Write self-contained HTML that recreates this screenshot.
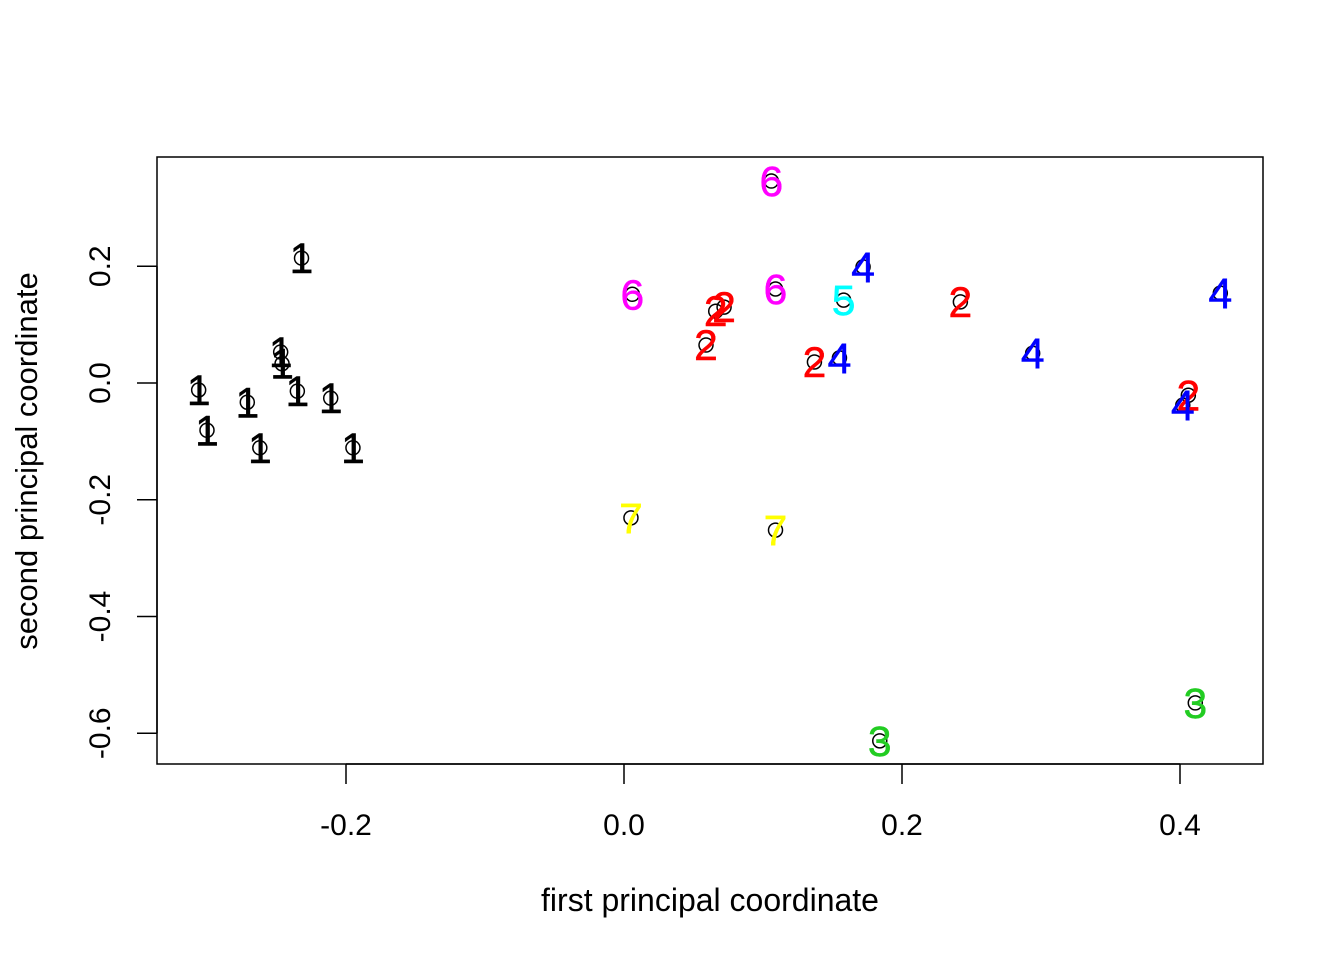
<!DOCTYPE html>
<html><head><meta charset="utf-8"><style>
html,body{margin:0;padding:0;background:#fff;}
svg{display:block;font-family:"Liberation Sans",Arial,sans-serif;}
</style></head><body>
<svg id="chart" width="1344" height="960" viewBox="0 0 1344 960">
<rect x="157" y="157" width="1106" height="607" fill="none" stroke="#000" stroke-width="1.5"/>
<g id="xaxis"></g>
<g id="yaxis"></g>
<g id="points"></g>
<text x="710" y="911" font-size="32" text-anchor="middle">first principal coordinate</text>
<text transform="translate(37,461) rotate(-90)" font-size="31" text-anchor="middle">second principal coordinate</text>
</svg>
<script>
const xVals=[-0.306,-0.300,-0.271,-0.262,-0.247,-0.246,-0.235,-0.232,-0.211,-0.195,
 0.059,0.066,0.072,0.137,0.242,0.406,
 0.184,0.411,
 0.172,0.155,0.294,0.429,0.402,
 0.158,
 0.106,0.006,0.109,
 0.005,0.109];
const yVals=[-0.012,-0.081,-0.033,-0.111,0.053,0.033,-0.014,0.214,-0.026,-0.111,
 0.065,0.123,0.130,0.036,0.139,-0.021,
 -0.613,-0.548,
 0.199,0.043,0.051,0.154,-0.038,
 0.142,
 0.346,0.152,0.161,
 -0.231,-0.252];
const groups=[1,1,1,1,1,1,1,1,1,1,2,2,2,2,2,2,3,3,4,4,4,4,4,5,6,6,6,7,7];
const groupColors=["#000000","#FF0000","#22CC22","#0000FF","#00FFFF","#FF00FF","#FFFF00"];
const xTicks=[-0.2,0.0,0.2,0.4];
const yTicks=[-0.6,-0.4,-0.2,0.0,0.2];
const xTickLabels=["-0.2","0.0","0.2","0.4"];
const yTickLabels=["-0.6","-0.4","-0.2","0.0","0.2"];

const NS="http://www.w3.org/2000/svg";
function sx(v){return 624+v*1390;}
function sy(v){return 383-v*583.75;}
function mk(tag,attrs,parent){const e=document.createElementNS(NS,tag);for(const k in attrs)e.setAttribute(k,attrs[k]);parent.appendChild(e);return e;}

const xa=document.getElementById('xaxis');
mk('line',{x1:sx(xTicks[0]),x2:sx(xTicks[xTicks.length-1]),y1:764,y2:764,stroke:'#000','stroke-width':1.5},xa);
xTicks.forEach((t,i)=>{
 const l=mk('line',{x1:sx(t),x2:sx(t),y1:764,y2:784,stroke:'#000','stroke-width':1.5},xa);
 
 
 const tx=mk('text',{x:sx(t),y:835,'font-size':30,'text-anchor':'middle'},xa);
 tx.textContent=xTickLabels[i];
 
 
});
const ya=document.getElementById('yaxis');
mk('line',{x1:157,x2:157,y1:sy(yTicks[0]),y2:sy(yTicks[yTicks.length-1]),stroke:'#000','stroke-width':1.5},ya);
yTicks.forEach((t,i)=>{
 const l=mk('line',{x1:137,x2:157,y1:sy(t),y2:sy(t),stroke:'#000','stroke-width':1.5},ya);
 
 
 const tx=mk('text',{transform:`translate(110,${sy(t)}) rotate(-90)`,'font-size':30,'text-anchor':'middle'},ya);
 tx.textContent=yTickLabels[i];
 
 
});
const pg=document.getElementById('points');
xVals.forEach((v,i)=>{
 const cx=sx(v),cy=sy(yVals[i]);
 const c=mk('circle',{cx:cx,cy:cy,r:7,fill:'none',stroke:'#000','stroke-width':1.5},pg);
 
 
});
xVals.forEach((v,i)=>{
 const cx=sx(v),cy=sy(yVals[i]);
 const col=groupColors[groups[i]-1];
 const t=mk('text',{x:cx,y:cy+15,'font-size':43,'text-anchor':'middle',fill:col,stroke:col,'stroke-width':0.4},pg);
 t.textContent=String(groups[i]);
 
 
});
</script>
</body></html>
